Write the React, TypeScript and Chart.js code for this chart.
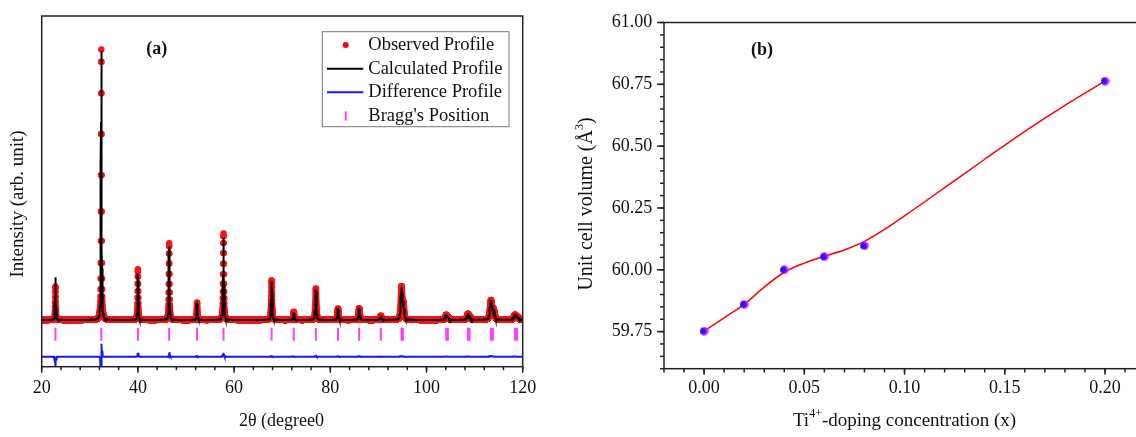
import React, { useEffect, useRef } from "react";
import { Chart, registerables } from "chart.js";

Chart.register(...registerables);

const FONT = '"Liberation Serif", "Times New Roman", serif';
const TEXT = "#111";

// ---------- Panel (a): Rietveld refinement ----------
const twoThetaMin = 20;
const twoThetaMax = 120;
const twoThetaStep = 0.02;
const xTicksA = [20, 40, 60, 80, 100, 120];

const peakPosObs = [22.86, 32.4, 40.0, 46.5, 52.3, 57.8, 67.8, 72.4, 77.0, 81.6, 86.0, 90.5, 94.8, 95.2, 104.1, 104.5, 108.6, 109.05, 113.4, 113.95, 118.4, 118.95];
const peakHeightObs = [335, 2705, 508, 768, 175, 865, 398, 82, 315, 115, 118, 42, 325, 150, 48, 25, 58, 28, 190, 95, 50, 26];
const peakPosCalc = [22.86, 32.394, 40.0, 46.496, 52.3, 57.8, 67.8, 72.4, 77.0, 81.6, 86.0, 90.5, 94.8, 95.2, 104.1, 104.5, 108.6, 109.05, 113.4, 113.95, 118.4, 118.95];
const peakHeightCalc = [427, 2700, 470, 735, 168, 825, 390, 78, 305, 110, 113, 40, 318, 148, 46, 25, 55, 28, 183, 93, 48, 26];
const peakFwhm = [0.17, 0.17, 0.18, 0.19, 0.2, 0.21, 0.24, 0.25, 0.27, 0.29, 0.31, 0.33, 0.36, 0.36, 0.42, 0.42, 0.46, 0.46, 0.5, 0.5, 0.56, 0.56];
const braggPositions = [22.86, 32.4, 40.0, 46.5, 52.3, 57.8, 67.8, 72.4, 77.0, 81.6, 86.0, 90.5, 94.8, 95.1, 104.1, 104.45, 108.6, 108.95, 113.4, 113.8, 118.4, 118.8];

const Y_MIN_A = -467;
const Y_MAX_A = 3040;
const BRAGG_LEVEL = -142;
const DIFF_LEVEL = -367;

// ---------- Panel (b): unit cell volume ----------
const dopingX = [0.0, 0.02, 0.04, 0.06, 0.08, 0.2];
const cellVolume = [59.752, 59.86, 60.0, 60.053, 60.097, 60.763];
const fitX = [0, 0.01, 0.02, 0.03, 0.04, 0.05, 0.06, 0.07, 0.08, 0.09, 0.1, 0.12, 0.14, 0.16, 0.18, 0.2];
const fitVolume = [59.752, 59.806, 59.86, 59.93, 59.99, 60.027, 60.055, 60.08, 60.115, 60.163, 60.218, 60.332, 60.447, 60.56, 60.665, 60.763];
const xTicksB = [0.0, 0.05, 0.1, 0.15, 0.2];
const yTicksB = [59.75, 60.0, 60.25, 60.5, 60.75, 61.0];

function pseudoVoigt(x: number, c: number, h: number, w: number) {
  const d = (x - c) / w;
  const L = 1 / (1 + 4 * d * d);
  const G = Math.exp(-4 * Math.LN2 * d * d);
  return h * (0.5 * L + 0.5 * G);
}

function profileAt(x: number, pos: number[], h: number[], w: number[]) {
  let s = 0;
  for (let i = 0; i < pos.length; i++) s += pseudoVoigt(x, pos[i], h[i], w[i]);
  return s;
}

function buildProfiles() {
  const obs: { x: number; y: number }[] = [];
  const calc: { x: number; y: number }[] = [];
  const diff: { x: number; y: number }[] = [];
  const n = Math.round((twoThetaMax - twoThetaMin) / twoThetaStep);
  for (let i = 0; i <= n; i++) {
    const t = +(twoThetaMin + i * twoThetaStep).toFixed(3);
    const o = profileAt(t, peakPosObs, peakHeightObs, peakFwhm);
    const c = profileAt(t, peakPosCalc, peakHeightCalc, peakFwhm);
    obs.push({ x: t, y: o });
    calc.push({ x: t, y: c });
    diff.push({ x: t, y: o - c + DIFF_LEVEL });
  }
  return { obs, calc, diff };
}

function line(ctx: CanvasRenderingContext2D, x1: number, y1: number, x2: number, y2: number) {
  ctx.beginPath();
  ctx.moveTo(x1, y1);
  ctx.lineTo(x2, y2);
  ctx.stroke();
}

type Part = { t: string; sup?: boolean };
function drawRich(ctx: CanvasRenderingContext2D, parts: Part[], cx: number, cy: number, size: number) {
  const supSize = Math.round(size * 0.62);
  let total = 0;
  const widths = parts.map((p) => {
    ctx.font = `${p.sup ? supSize : size}px ${FONT}`;
    const w = ctx.measureText(p.t).width;
    total += w;
    return w;
  });
  let x = cx - total / 2;
  ctx.textAlign = "left";
  ctx.textBaseline = "middle";
  parts.forEach((p, i) => {
    ctx.font = `${p.sup ? supSize : size}px ${FONT}`;
    ctx.fillText(p.t, x, p.sup ? cy - size * 0.38 : cy);
    x += widths[i];
  });
}

function makeDot() {
  const c = document.createElement("canvas");
  c.width = 9;
  c.height = 9;
  const g = c.getContext("2d")!;
  g.beginPath();
  g.arc(4.5, 4.5, 4.3, 0, Math.PI * 2);
  g.fillStyle = "#ff10ff";
  g.fill();
  g.save();
  g.beginPath();
  g.arc(4.5, 4.5, 4.3, 0, Math.PI * 2);
  g.clip();
  g.beginPath();
  g.arc(3.4, 4.5, 3.3, 0, Math.PI * 2);
  g.fillStyle = "#1a1aff";
  g.fill();
  g.restore();
  return c;
}

export default function App() {
  const refA = useRef<HTMLCanvasElement>(null);
  const refB = useRef<HTMLCanvasElement>(null);

  useEffect(() => {
    document.body.style.margin = "0";
    const { obs, calc, diff } = buildProfiles();
    const bragg = braggPositions.map((p) => ({ x: p, y: BRAGG_LEVEL }));

    const minorA: number[] = [];
    for (let v = twoThetaMin; v <= twoThetaMax + 1e-9; v += 4) minorA.push(v);

    const panelAPlugin = {
      id: "panelA",
      afterDraw(chart: any) {
        const { ctx, chartArea: a, scales } = chart;
        const xs = scales.x;
        ctx.save();
        ctx.strokeStyle = "#222";
        ctx.lineWidth = 1.5;
        ctx.strokeRect(a.left, a.top, a.right - a.left, a.bottom - a.top);
        minorA.forEach((v) => {
          const px = xs.getPixelForValue(v);
          line(ctx, px, a.bottom, px, a.bottom + 3.5);
        });
        xTicksA.forEach((v) => {
          const px = xs.getPixelForValue(v);
          line(ctx, px, a.bottom, px, a.bottom + 6);
        });
        ctx.fillStyle = TEXT;
        ctx.textAlign = "center";
        ctx.textBaseline = "middle";
        ctx.font = `bold 18px ${FONT}`;
        ctx.fillText("(a)", 156.7, 49);
        ctx.font = `18px ${FONT}`;
        ctx.fillText("2θ (degree0", 281.5, 421);
        ctx.save();
        ctx.translate(18, 204);
        ctx.rotate(-Math.PI / 2);
        ctx.font = `19px ${FONT}`;
        ctx.fillText("Intensity (arb. unit)", 0, 0);
        ctx.restore();

        // legend
        ctx.strokeStyle = "#777";
        ctx.lineWidth = 1;
        ctx.strokeRect(322.3, 31.7, 186.7, 95);
        const rows = [45, 68.7, 92.3, 116];
        const labels = ["Observed Profile", "Calculated Profile", "Difference Profile", "Bragg's Position"];
        ctx.fillStyle = "#ff0000";
        ctx.beginPath();
        ctx.arc(345.7, rows[0], 3, 0, Math.PI * 2);
        ctx.fill();
        ctx.lineWidth = 2;
        ctx.strokeStyle = "#000";
        line(ctx, 327, rows[1], 363.3, rows[1]);
        ctx.strokeStyle = "#1515ff";
        line(ctx, 327, rows[2], 363.3, rows[2]);
        ctx.strokeStyle = "#ff3dff";
        line(ctx, 345.7, rows[3] - 4.7, 345.7, rows[3] + 4.7);
        ctx.fillStyle = TEXT;
        ctx.textAlign = "left";
        ctx.font = `18.5px ${FONT}`;
        labels.forEach((l, i) => ctx.fillText(l, 368.3, rows[i]));
        ctx.restore();
      },
    };

    const chartA = new Chart(refA.current!, {
      type: "scatter",
      data: {
        datasets: [
          { label: "Calculated Profile", data: calc, showLine: true, borderColor: "#000", borderWidth: 2, pointRadius: 0, order: 0 } as any,
          { label: "Observed Profile", data: obs, showLine: false, pointRadius: 3.2, pointBackgroundColor: "#ff1010", pointBorderWidth: 0, order: 1 } as any,
          { label: "Difference Profile", data: diff, showLine: true, borderColor: "#1515ff", borderWidth: 2, pointRadius: 0, order: 2 } as any,
          { label: "Bragg's Position", data: bragg, showLine: false, pointStyle: "line", rotation: 90, pointRadius: 6.5, pointBorderColor: "#ff3dff", pointBorderWidth: 2, order: 3 } as any,
        ],
      },
      options: {
        responsive: false,
        animation: false,
        events: [],
        parsing: false,
        normalized: true,
        layout: { padding: { left: 41.7, top: 16, right: 37.3, bottom: 0 } },
        plugins: { legend: { display: false }, tooltip: { enabled: false } },
        scales: {
          x: {
            type: "linear",
            min: twoThetaMin,
            max: twoThetaMax,
            afterBuildTicks: (s: any) => {
              s.ticks = xTicksA.map((v) => ({ value: v }));
            },
            afterFit: (s: any) => {
              s.height = 70.3;
            },
            grid: { display: false, drawTicks: false },
            border: { display: false },
            ticks: { padding: 10.5, color: TEXT, font: { family: FONT, size: 18 }, maxRotation: 0, autoSkip: false },
          },
          y: { type: "linear", display: false, min: Y_MIN_A, max: Y_MAX_A },
        },
      } as any,
      plugins: [panelAPlugin],
    });

    // ---------- Panel (b) ----------
    const minorBX: number[] = [];
    for (let i = -2; i <= 22; i++) minorBX.push(i / 100);
    const minorBY: number[] = [];
    for (let i = 0; i <= 28; i++) minorBY.push(59.6 + i * 0.05);

    const panelBPlugin = {
      id: "panelB",
      afterDraw(chart: any) {
        const { ctx, chartArea: a, scales } = chart;
        const xs = scales.x;
        const ys = scales.y;
        ctx.save();
        ctx.strokeStyle = "#222";
        ctx.lineWidth = 1.5;
        ctx.strokeRect(a.left, a.top, a.right - a.left, a.bottom - a.top);
        minorBX.forEach((v) => {
          const px = xs.getPixelForValue(v);
          line(ctx, px, a.bottom, px, a.bottom + 3.7);
        });
        xTicksB.forEach((v) => {
          const px = xs.getPixelForValue(v);
          line(ctx, px, a.bottom, px, a.bottom + 6);
        });
        minorBY.forEach((v) => {
          const py = ys.getPixelForValue(v);
          line(ctx, a.left, py, a.left - 4, py);
        });
        yTicksB.forEach((v) => {
          const py = ys.getPixelForValue(v);
          line(ctx, a.left, py, a.left - 7, py);
        });
        ctx.fillStyle = TEXT;
        ctx.textAlign = "center";
        ctx.textBaseline = "middle";
        ctx.font = `bold 18px ${FONT}`;
        ctx.fillText("(b)", 202, 50);
        drawRich(ctx, [{ t: "Ti" }, { t: "4+", sup: true }, { t: "-doping concentration (x)" }], 344.5, 421, 19);
        ctx.save();
        ctx.translate(27, 204);
        ctx.rotate(-Math.PI / 2);
        drawRich(ctx, [{ t: "Unit cell volume (Å" }, { t: "3", sup: true }, { t: ")" }], 0, 0, 20);
        ctx.restore();
        ctx.restore();
      },
    };

    const dot = makeDot();
    const chartB = new Chart(refB.current!, {
      type: "scatter",
      data: {
        datasets: [
          { label: "Unit cell volume", data: dopingX.map((x, i) => ({ x, y: cellVolume[i] })), pointStyle: dot, pointRadius: 4.5, order: 0 } as any,
          { label: "Fit", data: fitX.map((x, i) => ({ x, y: fitVolume[i] })), showLine: true, borderColor: "#ff0000", borderWidth: 1.5, pointRadius: 0, cubicInterpolationMode: "monotone", order: 1 } as any,
        ],
      },
      options: {
        responsive: false,
        animation: false,
        events: [],
        layout: { padding: { left: 0, top: 17.3, right: 34.9, bottom: 0 } },
        plugins: { legend: { display: false }, tooltip: { enabled: false } },
        scales: {
          x: {
            type: "linear",
            min: -0.02,
            max: 0.22,
            afterBuildTicks: (s: any) => {
              s.ticks = xTicksB.map((v) => ({ value: v }));
            },
            afterFit: (s: any) => {
              s.height = 68.3;
            },
            grid: { display: false, drawTicks: false },
            border: { display: false },
            ticks: { padding: 9.2, color: TEXT, font: { family: FONT, size: 18 }, maxRotation: 0, autoSkip: false, callback: (v: any) => Number(v).toFixed(2) },
          },
          y: {
            type: "linear",
            min: 59.6,
            max: 61.0,
            afterBuildTicks: (s: any) => {
              s.ticks = yTicksB.map((v) => ({ value: v }));
            },
            afterFit: (s: any) => {
              s.width = 104;
            },
            grid: { display: false, drawTicks: false },
            border: { display: false },
            ticks: { padding: 11.7, color: TEXT, font: { family: FONT, size: 18 }, autoSkip: false, callback: (v: any) => Number(v).toFixed(2) },
          },
        },
      } as any,
      plugins: [panelBPlugin],
    });

    return () => {
      chartA.destroy();
      chartB.destroy();
    };
  }, []);

  return (
    <div style={{ position: "relative", width: 1136, height: 437, overflow: "hidden", background: "#fff" }}>
      <canvas ref={refA} width={560} height={437} style={{ position: "absolute", left: 0, top: 0, width: 560, height: 437 }} />
      <canvas ref={refB} width={620} height={437} style={{ position: "absolute", left: 560, top: 0, width: 620, height: 437 }} />
    </div>
  );
}
